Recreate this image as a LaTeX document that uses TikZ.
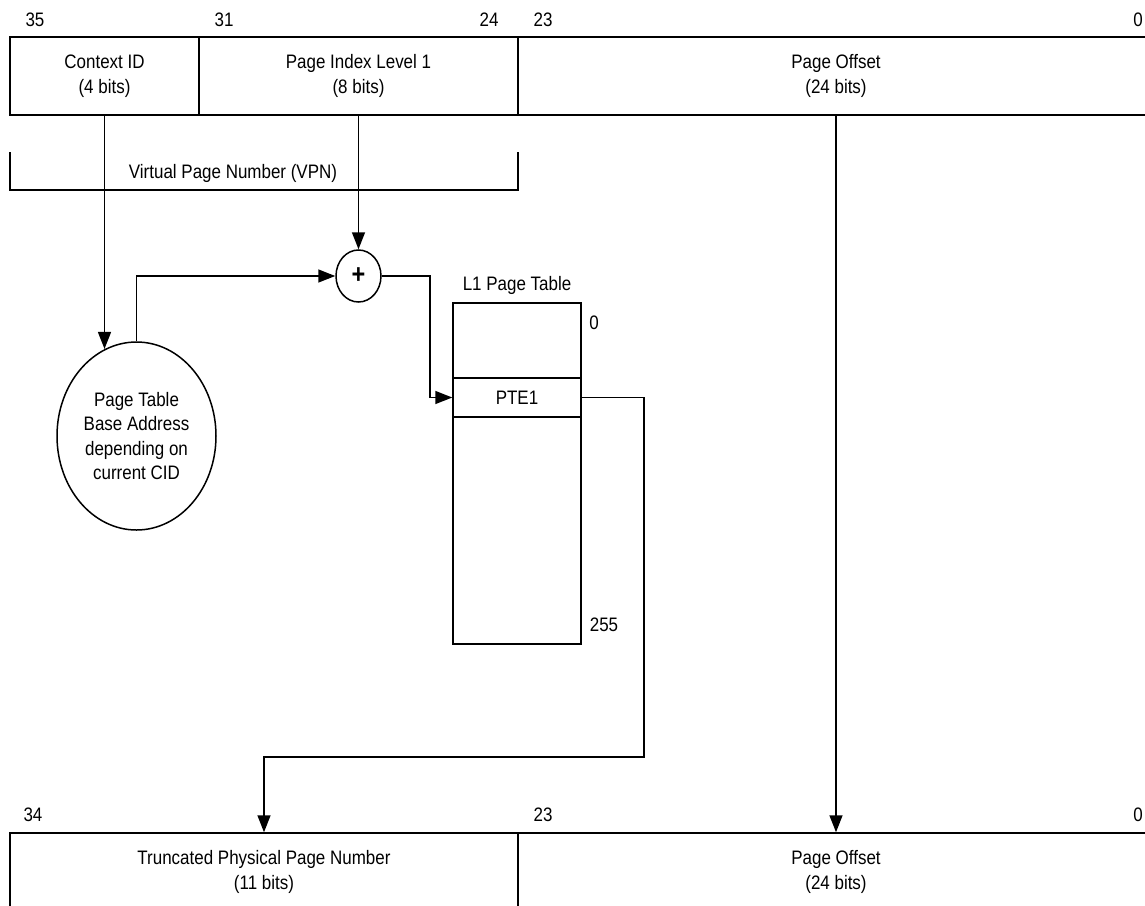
\documentclass[tikz,border=0pt]{standalone}
\usepackage{fontspec}
\setmainfont{Liberation Sans}[FakeStretch=0.87]
\usetikzlibrary{arrows.meta,shapes.geometric}
\begin{document}
\begin{tikzpicture}[x=1pt,y=-1pt,
  every node/.style={font=\fontsize{19.5}{24.5}\selectfont},
  ln/.style={line width=1.5pt},
  arr/.style={ln,-{Triangle[length=17pt,width=13pt]}},
  field/.style={draw,ln,rectangle,inner sep=0pt,align=center,minimum height=78pt},
  cell/.style={draw,ln,rectangle,inner sep=0pt,minimum width=128pt},
  lbl/.style={inner sep=0pt,align=center}]
\useasboundingbox (0,0) rectangle (1145,905);
\begin{scope}
\clip (0,0) rectangle (1145,905);
% top fields
\node[field,minimum width=189pt] (cid) at (104.5,76) {Context ID\\(4 bits)};
\node[field,minimum width=319pt] (pil) at (358.5,76) {Page Index Level 1\\(8 bits)};
\node[field,minimum width=636pt] (po) at (836,76) {Page Offset\\(24 bits)};
\node[lbl] (b35) at (35,20) {35};
\node[lbl] (b31) at (224,20) {31};
\node[lbl] (b24) at (489,20) {24};
\node[lbl] (b23) at (543,20) {23};
\node[lbl] (b0) at (1138,20) {0};
% VPN bracket
\coordinate (v1) at (10,152);
\coordinate (v2) at (518,152);
\draw[ln] (v1) -- ++(0,38) -| (v2);
\node[lbl] (vpn) at (233,173) {Virtual Page Number (VPN)};
% base address ellipse
\node[draw,ln,ellipse,minimum width=159pt,minimum height=188pt,inner sep=0pt,align=center] (pt) at (136.5,436)
  {Page Table\\Base Address\\depending on\\current CID};
% adder
\node[draw,ln,ellipse,minimum width=45pt,minimum height=52pt,inner sep=0pt,
  font=\fontsize{27}{27}\selectfont\bfseries] (plus) at (358.5,276) {+};
% page table
\node[lbl] (ttl) at (517,285) {L1 Page Table};
\node[cell,minimum height=341pt] (tbl) at (517,473.5) {};
\node[cell,minimum height=39pt] (pte) at (517,397.5) {PTE1};
\node[lbl] (i0) at (594,323) {0};
\node[lbl] (i255) at (604,625) {255};
% bottom fields
\node[field,minimum width=508pt] (tppn) at (264,872) {Truncated Physical Page Number\\(11 bits)};
\node[field,minimum width=636pt] (po2) at (836,872) {Page Offset\\(24 bits)};
\node[lbl] (c34) at (33,815) {34};
\node[lbl] (c23) at (543,815) {23};
\node[lbl] (c0) at (1138,815) {0};
% connectors
\draw[arr] (cid.south) -- (cid.south |- pt.110.4);
\draw[arr] (pil.south) -- (plus.north);
\draw[arr] (pt.north) |- (plus.west);
\coordinate (k1) at (430,276);
\draw[arr] (plus.east) -- (k1) |- (pte.west);
\coordinate (k2) at (644,757);
\draw[arr] (pte.east) -| (k2) -| (tppn.north);
\draw[arr] (po.south) -- (po2.north);
\end{scope}
\end{tikzpicture}
\end{document}
